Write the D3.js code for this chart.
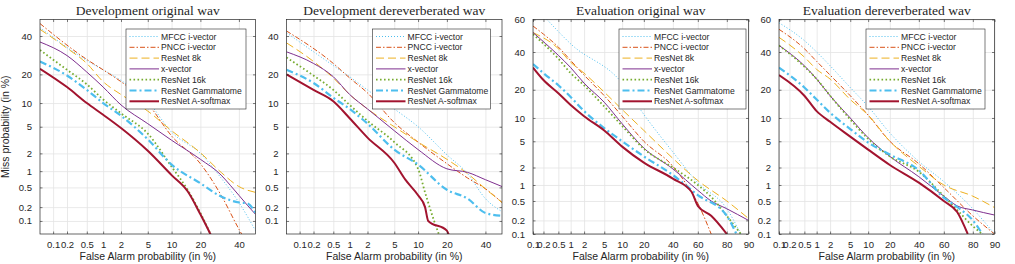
<!DOCTYPE html>
<html>
<head>
<meta charset="utf-8">
<script src="https://cdn.jsdelivr.net/npm/d3@7"></script>
<style>
  body { margin: 0; background: #fff; }
  svg text { fill: #262626; }
</style>
</head>
<body>
<script>
// series, in legend order
var seriesNames = ['MFCC i-vector', 'PNCC i-vector', 'ResNet 8k', 'x-vector', 'ResNet 16k', 'ResNet Gammatome', 'ResNet A-softmax'];
var seriesColors = ['#4DBEEE', '#D95319', '#EDB120', '#7E2F8E', '#77AC30', '#4DBEEE', '#A2142F'];
var seriesDash = ['1,2', '5,2,1.5,2', '8,4', null, '1.6,2.4', '7,3,2,3', null];
var seriesWidth = [1, 1, 1, 1, 1.8, 2.2, 2];

var panelTitles = ['Development original wav', 'Development dereverberated wav', 'Evaluation original wav', 'Evaluation dereverberated wav'];

// tick labels (in %)
var devTicks = [0.1, 0.2, 0.5, 1, 2, 5, 10, 20, 40];
var evalXTicks = [0.1, 0.2, 0.5, 1, 2, 5, 10, 20, 40, 60, 80, 90];
var evalYTicks = [0.1, 0.2, 0.5, 1, 2, 5, 10, 20, 40, 60];

// DET points [false alarm %, miss %], one list per series
var devOrig = [
  [[0.05, 45], [0.5, 26.5], [1, 22], [2, 17.5], [5, 10.5], [10, 4.2], [20, 2], [30, 0.75], [40, 0.25], [50, 0.06]],
  [[0.05, 47.5], [0.5, 27], [1, 22], [2, 17], [5, 9.8], [10, 3.7], [20, 1.35], [30, 0.35], [40, 0.065], [43, 0.04]],
  [[0.05, 44], [0.2, 33], [0.5, 25], [1, 17], [2, 12.5], [5, 8], [10, 4.4], [20, 2.05], [30, 0.95], [40, 0.52], [50, 0.4]],
  [[0.05, 36.5], [0.2, 29], [0.5, 21], [1, 15], [2, 9.5], [5, 5.5], [10, 3.2], [20, 1.6], [30, 0.85], [35, 0.55], [40, 0.35], [45, 0.22], [50, 0.14]],
  [[0.05, 32], [0.2, 22], [0.5, 16], [1, 11], [2, 7.5], [5, 4], [10, 1.2], [15, 0.45], [20, 0.15], [25, 0.045]],
  [[0.05, 26], [0.2, 19.5], [0.5, 14], [1, 10], [2, 7], [5, 3.3], [10, 1.3], [20, 0.6], [30, 0.33], [40, 0.25], [45, 0.24], [50, 0.15]],
  [[0.05, 22.5], [0.2, 15], [0.5, 10], [1, 7.2], [2, 4.8], [5, 2.2], [10, 0.85], [15, 0.42], [20, 0.14], [25, 0.045]]
];
var devDerev = [
  [[0.05, 42], [0.5, 24], [1, 19], [2, 14], [5, 8.5], [10, 5], [20, 1.9], [30, 0.9], [40, 0.3], [50, 0.16]],
  [[0.05, 43], [0.5, 25], [1, 18.5], [2, 13], [5, 5.7], [10, 3], [20, 1.35], [30, 0.75], [40, 0.47], [50, 0.25]],
  [[0.05, 36], [0.2, 26], [0.5, 18.5], [1, 12.5], [2, 8.5], [5, 5], [10, 3], [20, 1.6], [30, 0.9], [40, 0.47], [50, 0.25]],
  [[0.05, 31], [0.2, 25], [0.5, 19], [1, 12.5], [2, 8.5], [5, 4.4], [10, 2.3], [20, 1.1], [30, 0.95], [40, 0.7], [50, 0.52]],
  [[0.05, 28], [0.2, 19.5], [0.5, 14], [1, 9.5], [2, 6], [5, 3], [10, 1.1], [12, 0.4], [15, 0.1], [17, 0.045]],
  [[0.05, 22], [0.2, 16.5], [0.5, 11.5], [1, 8.5], [2, 5.5], [5, 2.3], [10, 1.3], [20, 0.45], [30, 0.3], [40, 0.15], [50, 0.13]],
  [[0.05, 20], [0.2, 14], [0.5, 10.5], [1, 6.5], [2, 3.5], [5, 1.4], [7, 0.7], [10, 0.35], [12, 0.2], [13, 0.1], [20, 0.06], [21, 0.045]]
];
var evalOrig = [
  [[0.25, 60], [1, 45], [10, 23], [20, 11], [40, 3.5], [60, 1.1], [80, 0.35], [87, 0.1]],
  [[0.1, 56], [0.2, 51], [0.5, 43], [1, 35], [2, 27], [5, 17.5], [10, 10.5], [20, 5], [40, 2.1], [50, 1.1], [60, 0.45], [70, 0.1]],
  [[0.1, 52], [0.5, 42], [1, 34], [2, 28], [5, 19], [10, 12.5], [20, 7], [40, 2.8], [60, 1.2], [80, 0.5], [90, 0.22]],
  [[0.1, 52], [0.5, 38], [1, 31], [2, 23], [5, 15], [10, 8.5], [20, 4], [40, 1.9], [60, 0.8], [70, 0.5], [80, 0.35], [90, 0.2]],
  [[0.1, 51], [0.5, 36], [1, 28], [2, 22], [5, 13.5], [10, 8], [20, 3.9], [40, 2], [60, 1], [70, 0.6], [80, 0.25], [87, 0.1]],
  [[0.1, 33], [0.2, 28], [0.5, 22], [1, 17], [2, 12], [5, 7.5], [10, 5], [20, 3], [40, 1.5], [60, 0.65], [80, 0.25], [85, 0.1]],
  [[0.1, 31], [0.2, 24.5], [0.5, 18.5], [1, 14], [2, 10.5], [5, 7], [10, 4.2], [20, 2.4], [40, 1.3], [55, 0.75], [60, 0.4], [70, 0.25], [80, 0.1]]
];
var evalDerev = [
  [[0.1, 58], [0.5, 47], [1, 40], [2, 32], [5, 21], [10, 13.5], [20, 6.5], [40, 2.5], [60, 1.15], [80, 0.35], [90, 0.1]],
  [[0.1, 54], [0.5, 42], [1, 34.5], [2, 27], [5, 17.5], [10, 10.8], [20, 5], [40, 2.3], [60, 0.9], [80, 0.25], [90, 0.1]],
  [[0.1, 49], [0.5, 37], [1, 30], [2, 25], [5, 16], [10, 10.8], [20, 5], [40, 2.1], [60, 1], [80, 0.62], [90, 0.37]],
  [[0.1, 44], [0.5, 32], [1, 25], [2, 17.5], [5, 10], [10, 5.6], [20, 3], [40, 1.4], [60, 0.62], [70, 0.4], [80, 0.33], [90, 0.26]],
  [[0.1, 44], [0.5, 31.5], [1, 25], [2, 17.5], [5, 9.6], [10, 5.4], [20, 3], [40, 1.7], [60, 0.62], [70, 0.33], [80, 0.15], [85, 0.1]],
  [[0.1, 31], [0.5, 21], [1, 16], [2, 11.5], [5, 7.3], [10, 4.8], [20, 3.2], [40, 1.8], [60, 0.58], [70, 0.38], [80, 0.2], [85, 0.1]],
  [[0.1, 27], [0.5, 17.5], [1, 12], [2, 9], [5, 5.8], [10, 3.8], [20, 2.2], [40, 1.1], [60, 0.5], [70, 0.3], [77, 0.1]]
];

// inverse normal cdf (Acklam)
function probit(p) {
  var a = [-3.969683028665376e+01, 2.209460984245205e+02, -2.759285104469687e+02, 1.383577518672690e+02, -3.066479806614716e+01, 2.506628277459239e+00];
  var b = [-5.447609879822406e+01, 1.615858368580409e+02, -1.556989798598866e+02, 6.680131188771972e+01, -1.328068155288572e+01];
  var c = [-7.784894002430293e-03, -3.223964580411365e-01, -2.400758277161838e+00, -2.549732539343734e+00, 4.374664141464968e+00, 2.938163982698783e+00];
  var d = [7.784695709041462e-03, 3.224671290700398e-01, 2.445134137142996e+00, 3.754408661907416e+00];
  var q, r;
  if (p < 0.02425) {
    q = Math.sqrt(-2 * Math.log(p));
    return (((((c[0] * q + c[1]) * q + c[2]) * q + c[3]) * q + c[4]) * q + c[5]) / ((((d[0] * q + d[1]) * q + d[2]) * q + d[3]) * q + 1);
  }
  if (p <= 1 - 0.02425) {
    q = p - 0.5; r = q * q;
    return (((((a[0] * r + a[1]) * r + a[2]) * r + a[3]) * r + a[4]) * r + a[5]) * q / (((((b[0] * r + b[1]) * r + b[2]) * r + b[3]) * r + b[4]) * r + 1);
  }
  q = Math.sqrt(-2 * Math.log(1 - p));
  return -(((((c[0] * q + c[1]) * q + c[2]) * q + c[3]) * q + c[4]) * q + c[5]) / ((((d[0] * q + d[1]) * q + d[2]) * q + d[3]) * q + 1);
}
function pct(v) { return probit(v / 100); }

var W = 1015, H = 264;
var plotTop = 19.5, plotH = 214.5, plotW = 215.5;

var panels = [
  { title: panelTitles[0], data: devOrig, left: 40, xDom: [0.05, 50], yDom: [0.05, 50], xTicks: devTicks, yTicks: devTicks, legLeft: 86, legW: 120 },
  { title: panelTitles[1], data: devDerev, left: 286.5, xDom: [0.05, 50], yDom: [0.05, 50], xTicks: devTicks, yTicks: devTicks, legLeft: 86, legW: 118 },
  { title: panelTitles[2], data: evalOrig, left: 533, xDom: [0.1, 90], yDom: [0.1, 60], xTicks: evalXTicks, yTicks: evalYTicks, legLeft: 86, legW: 127 },
  { title: panelTitles[3], data: evalDerev, left: 779, xDom: [0.1, 90], yDom: [0.1, 60], xTicks: evalXTicks, yTicks: evalYTicks, legLeft: 87, legW: 119 }
];

var svg = d3.select('body').append('svg').attr('width', W).attr('height', H)
  .style('font-family', '"Liberation Sans", Arial, sans-serif');
svg.append('rect').attr('width', W).attr('height', H).attr('fill', '#fff');

panels.forEach(function (p, pi) {
  var xs = d3.scaleLinear().domain(p.xDom.map(pct)).range([0, plotW]);
  var ys = d3.scaleLinear().domain(p.yDom.map(pct)).range([plotH, 0]);
  var g = svg.append('g').attr('transform', 'translate(' + p.left + ',' + plotTop + ')');

  // grid
  g.append('g').attr('transform', 'translate(0,' + plotH + ')')
    .call(d3.axisBottom(xs).tickValues(p.xTicks.map(pct)).tickSize(-plotH).tickFormat(''))
    .call(function (s) { s.select('.domain').remove(); s.selectAll('line').attr('stroke', '#e3e3e3').attr('stroke-width', 0.8); });
  g.append('g')
    .call(d3.axisLeft(ys).tickValues(p.yTicks.map(pct)).tickSize(-plotW).tickFormat(''))
    .call(function (s) { s.select('.domain').remove(); s.selectAll('line').attr('stroke', '#e3e3e3').attr('stroke-width', 0.8); });

  // curves
  var clipId = 'clip' + pi;
  g.append('clipPath').attr('id', clipId).append('rect').attr('width', plotW).attr('height', plotH);
  var line = d3.line().curve(d3.curveMonotoneX)
    .x(function (d) { return xs(pct(d[0])); }).y(function (d) { return ys(pct(d[1])); });
  var lines = g.append('g').attr('clip-path', 'url(#' + clipId + ')');
  p.data.forEach(function (pts, si) {
    lines.append('path').datum(pts).attr('d', line).attr('fill', 'none')
      .attr('stroke', seriesColors[si]).attr('stroke-width', seriesWidth[si])
      .attr('stroke-dasharray', seriesDash[si]).attr('stroke-linejoin', 'round');
  });

  // axes with inward ticks
  var xFmt = function (d, i) { return String(p.xTicks[i]); };
  var yFmt = function (d, i) { return String(p.yTicks[i]); };
  g.append('g').attr('transform', 'translate(0,' + plotH + ')')
    .call(d3.axisBottom(xs).tickValues(p.xTicks.map(pct)).tickSizeInner(-2.5).tickSizeOuter(0).tickPadding(7).tickFormat(xFmt))
    .call(function (s) { s.select('.domain').remove(); s.selectAll('line').attr('stroke', '#262626').attr('stroke-width', 0.6); s.selectAll('text').style('font-size', '9.5px').attr('fill', '#262626'); });
  g.append('g')
    .call(d3.axisLeft(ys).tickValues(p.yTicks.map(pct)).tickSizeInner(-2.5).tickSizeOuter(0).tickPadding(8).tickFormat(yFmt))
    .call(function (s) { s.select('.domain').remove(); s.selectAll('line').attr('stroke', '#262626').attr('stroke-width', 0.6); s.selectAll('text').style('font-size', '9.5px').attr('fill', '#262626'); });
  g.append('g')
    .call(d3.axisTop(xs).tickValues(p.xTicks.map(pct)).tickSizeInner(-2.5).tickSizeOuter(0).tickFormat(''))
    .call(function (s) { s.select('.domain').remove(); s.selectAll('line').attr('stroke', '#262626').attr('stroke-width', 0.6); });
  g.append('g').attr('transform', 'translate(' + plotW + ',0)')
    .call(d3.axisRight(ys).tickValues(p.yTicks.map(pct)).tickSizeInner(-2.5).tickSizeOuter(0).tickFormat(''))
    .call(function (s) { s.select('.domain').remove(); s.selectAll('line').attr('stroke', '#262626').attr('stroke-width', 0.6); });

  g.append('rect').attr('width', plotW).attr('height', plotH).attr('fill', 'none')
    .attr('stroke', '#262626').attr('stroke-width', 0.7);

  // title and labels
  g.append('text').attr('x', plotW / 2).attr('y', -5).attr('text-anchor', 'middle')
    .style('font-family', '"Liberation Serif", "Times New Roman", serif').style('font-size', '13.5px')
    .attr('fill', '#000').text(p.title);
  g.append('text').attr('x', plotW / 2).attr('y', plotH + 26).attr('text-anchor', 'middle')
    .style('font-size', '10.5px').text('False Alarm probability (in %)');
  if (pi === 0) {
    g.append('text').attr('transform', 'translate(-31,' + (plotH / 2) + ') rotate(-90)').attr('text-anchor', 'middle')
      .style('font-size', '10.5px').text('Miss probability (in %)');
  }

  // legend
  var lg = g.append('g').attr('transform', 'translate(' + p.legLeft + ',9.5)');
  lg.append('rect').attr('width', p.legW).attr('height', 80).attr('fill', '#fff')
    .attr('stroke', '#262626').attr('stroke-width', 0.6);
  seriesNames.forEach(function (name, si) {
    var yy = 7.5 + si * 10.8;
    lg.append('line').attr('x1', 3.5).attr('x2', 33).attr('y1', yy).attr('y2', yy)
      .attr('stroke', seriesColors[si]).attr('stroke-width', seriesWidth[si])
      .attr('stroke-dasharray', seriesDash[si]);
    lg.append('text').attr('x', 35).attr('y', yy + 3).style('font-size', '8.6px').attr('fill', '#000').text(name);
  });
});
</script>
</body>
</html>
